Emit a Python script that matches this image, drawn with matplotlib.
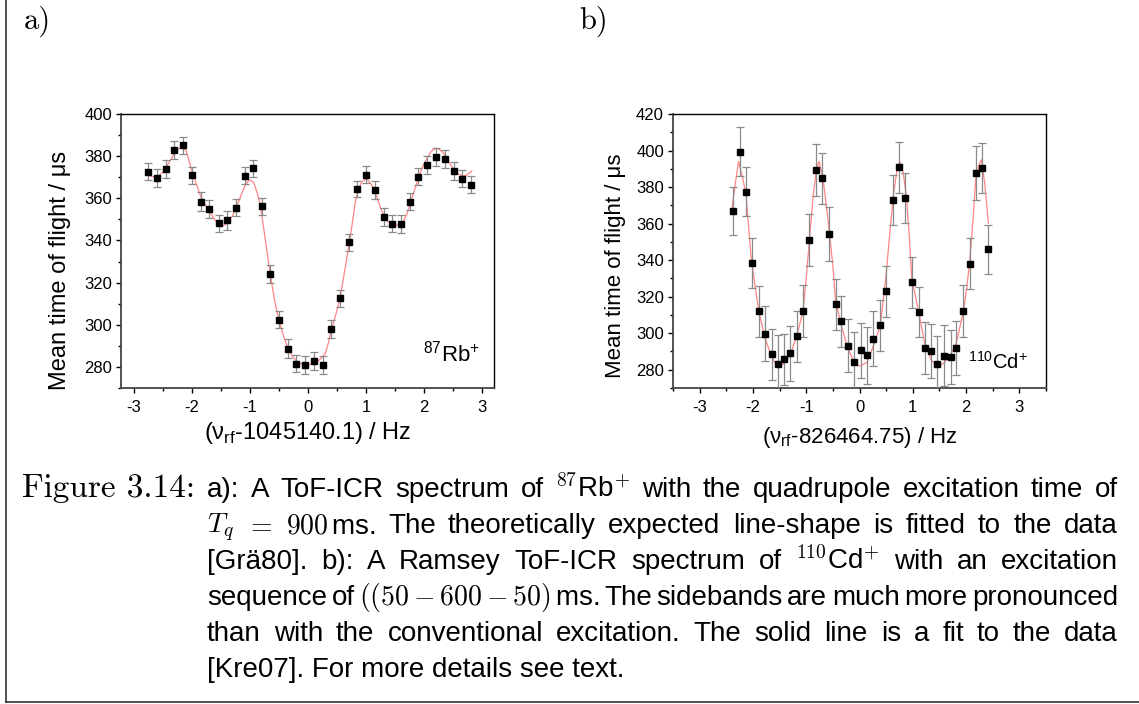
import matplotlib.pyplot as plt
from matplotlib.ticker import MultipleLocator
from matplotlib.lines import Line2D

plt.rcParams['font.family'] = ['Liberation Sans', 'DejaVu Sans']
plt.rcParams['axes.unicode_minus'] = False

# -------------------------------
# Data a) 87Rb+ conventional excitation
# -------------------------------
freq_a = [-2.75, -2.60, -2.45, -2.30, -2.15, -2.00, -1.85, -1.70, -1.54, -1.39,
          -1.24, -1.09, -0.94, -0.80, -0.65, -0.50, -0.35, -0.20, -0.05, 0.11,
          0.26, 0.40, 0.55, 0.70, 0.85, 1.00, 1.15, 1.30, 1.45, 1.60,
          1.75, 1.90, 2.05, 2.21, 2.36, 2.51, 2.65, 2.81]
tof_a = [372.6, 369.5, 373.9, 382.8, 385.1, 370.9, 358.4, 354.9, 348.1, 349.7,
         355.6, 370.8, 374.2, 356.2, 324.1, 302.3, 288.7, 281.6, 280.9, 282.8,
         281.1, 298.0, 312.6, 339.1, 364.4, 371.2, 364.0, 351.1, 348.0, 347.7,
         358.4, 370.3, 375.8, 379.8, 378.7, 373.0, 369.3, 366.5]
err_a = [4.1, 4.2, 4.1, 4.3, 4.0, 4.1, 4.4, 4.1, 4.2, 4.5,
         4.2, 4.1, 4.2, 4.0, 4.1, 4.0, 4.5, 4.2, 4.3, 4.2,
         4.3, 4.2, 4.1, 4.0, 4.0, 4.0, 4.1, 4.2, 4.1, 4.3,
         3.9, 4.0, 4.2, 4.3, 4.4, 4.1, 4.1, 4.0]

fit_a_x = [-2.76, -2.68, -2.60, -2.52, -2.45, -2.37, -2.30, -2.23, -2.17, -2.10,
           -2.01, -1.93, -1.85, -1.77, -1.69, -1.60, -1.52, -1.46, -1.38, -1.30,
           -1.24, -1.16, -1.09, -1.03, -0.98, -0.93, -0.88, -0.83, -0.77, -0.72,
           -0.65, -0.58, -0.50, -0.42, -0.35, -0.27, -0.20, -0.10, -0.03, 0.05,
           0.15, 0.22, 0.30, 0.35, 0.40, 0.48, 0.55, 0.62, 0.70, 0.76,
           0.81, 0.87, 0.93, 1.00, 1.05, 1.09, 1.18, 1.24, 1.30, 1.37,
           1.44, 1.52, 1.58, 1.64, 1.70, 1.75, 1.82, 1.90, 1.97, 2.05,
           2.12, 2.20, 2.26, 2.33, 2.40, 2.47, 2.54, 2.61, 2.67, 2.72,
           2.78, 2.82]
fit_a_y = [371.2, 370.3, 370.2, 371.8, 374.4, 378.0, 381.5, 383.5, 383.9, 382.8,
           374.0, 367.3, 361.0, 357.0, 353.8, 349.5, 347.3, 347.0, 348.5, 351.8,
           355.4, 361.0, 365.7, 368.2, 368.6, 367.0, 363.0, 357.8, 347.0, 337.2,
           324.0, 312.0, 302.0, 294.5, 289.0, 285.0, 282.7, 281.2, 280.8, 281.2,
           282.2, 284.0, 286.6, 291.5, 297.7, 305.0, 312.6, 324.0, 337.2, 348.0,
           357.8, 364.5, 368.0, 369.2, 368.0, 366.5, 361.0, 356.0, 352.2, 349.0,
           348.0, 347.2, 347.8, 349.0, 352.5, 356.5, 363.0, 369.6, 375.0, 379.1,
           382.3, 383.9, 383.2, 381.5, 378.5, 375.2, 372.5, 371.2, 370.6, 370.9,
           372.0, 373.0]

# -------------------------------
# Data b) 110Cd+ Ramsey excitation
# -------------------------------
freq_b = [-2.38, -2.25, -2.13, -2.02, -1.89, -1.77, -1.65, -1.53, -1.41, -1.30,
          -1.18, -1.06, -0.94, -0.82, -0.70, -0.58, -0.45, -0.34, -0.22, -0.10,
          0.02, 0.14, 0.26, 0.39, 0.50, 0.62, 0.74, 0.86, 0.98, 1.11,
          1.22, 1.34, 1.46, 1.58, 1.71, 1.82, 1.95, 2.07, 2.18, 2.30, 2.42]
tof_b = [366.9, 399.3, 377.4, 338.4, 311.9, 299.7, 288.4, 282.9, 285.8, 288.9,
         298.4, 312.1, 351.0, 389.5, 384.9, 354.3, 315.9, 306.6, 293.1, 284.0,
         290.6, 287.8, 297.0, 304.3, 322.9, 372.7, 390.8, 374.2, 327.8, 311.8,
         291.9, 290.4, 282.9, 287.7, 286.8, 291.9, 312.1, 338.0, 387.7, 390.4, 345.9]
err_b = [13.2, 13.5, 13.4, 13.7, 13.9, 15.0, 14.0, 15.9, 14.0, 15.0,
         14.0, 14.4, 14.4, 14.3, 13.9, 14.6, 14.0, 14.0, 14.6, 16.4,
         15.0, 15.5, 15.0, 14.0, 14.0, 13.7, 13.9, 13.7, 13.9, 13.7,
         14.0, 14.8, 15.5, 16.6, 14.8, 14.8, 14.3, 14.0, 14.6, 13.9, 13.5]

fit_b_x = [-2.39, -2.33, -2.27, -2.20, -2.13, -2.03, -1.95, -1.89, -1.77, -1.65,
           -1.55, -1.47, -1.41, -1.30, -1.18, -1.06, -1.00, -0.94, -0.87, -0.81,
           -0.76, -0.69, -0.59, -0.50, -0.45, -0.34, -0.22, -0.10, 0.00, 0.14,
           0.26, 0.39, 0.50, 0.56, 0.63, 0.70, 0.755, 0.82, 0.88, 0.93,
           0.98, 1.11, 1.22, 1.34, 1.46, 1.58, 1.71, 1.82, 1.95, 2.01,
           2.07, 2.13, 2.18, 2.24, 2.29, 2.35, 2.42]
fit_b_y = [369.0, 382.0, 394.0, 386.0, 376.0, 340.0, 324.0, 311.9, 297.0, 287.3,
           282.0, 282.3, 283.6, 288.2, 298.2, 312.1, 330.0, 351.0, 375.0, 389.0,
           394.0, 386.0, 362.0, 337.0, 318.0, 304.0, 292.0, 284.0, 282.0, 284.0,
           293.0, 304.0, 332.0, 352.0, 374.0, 389.0, 394.0, 388.0, 375.0, 355.0,
           330.0, 311.8, 295.0, 285.5, 281.8, 283.6, 288.0, 295.0, 312.0, 324.0,
           340.0, 362.0, 384.0, 392.0, 395.0, 382.0, 360.3]

# -------------------------------
# Figure layout (pixel based, 1139 x 704)
# -------------------------------
W, H = 1139, 704
fig = plt.figure(figsize=(W / 100, H / 100), dpi=100)


def px_axes(x0, y0, x1, y1):
    return fig.add_axes([x0 / W, 1 - y1 / H, (x1 - x0) / W, (y1 - y0) / H])


ax_a = px_axes(121, 114, 494, 388)
ax_b = px_axes(673, 114, 1046, 388)

panels = [
    (ax_a, freq_a, tof_a, err_a, fit_a_x, fit_a_y, (-3.22, 3.2), (270, 400)),
    (ax_b, freq_b, tof_b, err_b, fit_b_x, fit_b_y, (-3.5, 3.5), (270, 420)),
]

for ax, fx, fy, fe, cx, cy, xlim, ylim in panels:
    ax.plot(cx, cy, color='#ff8585', lw=0.9, zorder=2)
    ax.errorbar(fx, fy, yerr=fe, fmt='s', color='black', ms=4.2,
                ecolor='#8a8a8a', elinewidth=0.9, capsize=2.6, capthick=0.9, zorder=3)
    ax.set_xlim(*xlim)
    ax.set_ylim(*ylim)
    ax.xaxis.set_major_locator(MultipleLocator(1))
    ax.xaxis.set_minor_locator(MultipleLocator(0.5))
    ax.yaxis.set_major_locator(MultipleLocator(20))
    ax.yaxis.set_minor_locator(MultipleLocator(10))
    ax.tick_params(which='both', direction='out', top=False, right=False, width=1, labelsize=12)
    ax.tick_params(which='major', length=3.5)
    ax.tick_params(which='minor', length=2)
    ax.tick_params(axis='x', pad=5)
    ax.tick_params(axis='y', pad=3)
    for side in ['left', 'bottom']:
        ax.spines[side].set_linewidth(1.3)
        ax.spines[side].set_color('#444444')
    for side in ['top', 'right']:
        ax.spines[side].set_linewidth(1.0)

# axis labels
ax_a.set_ylabel('Mean time of flight / μs', fontsize=17, va='center')
ax_a.yaxis.set_label_coords(-0.164, 0.43)
ax_a.set_xlabel(r'(ν$_{\mathregular{rf}}$-1045140.1) / Hz', fontsize=17, va='baseline')
ax_a.xaxis.set_label_coords(0.5, -0.185)
ax_a.text(0.81, 0.095, r'$\mathregular{^{87}}$Rb$\mathregular{^{+}}$', fontsize=16,
          transform=ax_a.transAxes, va='baseline')

ax_b.set_ylabel('Mean time of flight / μs', fontsize=16, va='center')
ax_b.yaxis.set_label_coords(-0.155, 0.445)
ax_b.set_xlabel(r'(ν$_{\mathregular{rf}}$-826464.75) / Hz', fontsize=16, va='baseline')
ax_b.xaxis.set_label_coords(0.5, -0.2)
ax_b.text(0.791, 0.069, r'$\mathregular{^{110}}$Cd$\mathregular{^{+}}$', fontsize=14.5,
          transform=ax_b.transAxes, va='baseline')

# panel letters
fig.text(24 / W, 1 - 29 / H, 'a)', fontsize=22, family='cmr10', va='baseline')
fig.text(579 / W, 1 - 29 / H, 'b)', fontsize=22, family='cmr10', va='baseline')

# frame lines (left and bottom)
fig.add_artist(Line2D([6 / W, 6 / W], [1 - 702 / H, 1.0], transform=fig.transFigure, color='#333333', lw=1.2))
fig.add_artist(Line2D([6 / W, 1.0], [1 - 702 / H, 1 - 702 / H], transform=fig.transFigure, color='#333333', lw=1.2))

# -------------------------------
# Caption (justified lines)
# -------------------------------
cap_size = 20
cap_left, cap_right = 207, 1118
baselines = [497, 533, 569, 605, 641, 677]

caption_lines = [
    ['a):', 'A', 'ToF-ICR', 'spectrum', 'of', r'$^{87}$Rb$^{+}$', 'with', 'the',
     'quadrupole', 'excitation', 'time', 'of'],
    [r'$T_q$', r'$=$', r'$900\,$ms.', 'The', 'theoretically', 'expected', 'line-shape',
     'is', 'fitted', 'to', 'the', 'data'],
    ['[Grä80].', 'b):', 'A', 'Ramsey', 'ToF-ICR', 'spectrum', 'of', r'$^{110}$Cd$^{+}$',
     'with', 'an', 'excitation'],
    ['sequence', 'of', r'$((50-600-50)\,$ms.', 'The', 'sidebands', 'are', 'much', 'more',
     'pronounced'],
    ['than', 'with', 'the', 'conventional', 'excitation.', 'The', 'solid', 'line', 'is',
     'a', 'fit', 'to', 'the', 'data'],
]
last_line = '[Kre07]. For more details see text.'

renderer = fig.canvas.get_renderer()
for words, py in zip(caption_lines, baselines):
    items = [fig.text(0, 1 - py / H, w, fontsize=cap_size, math_fontfamily='cm', va='baseline')
             for w in words]
    widths = [t.get_window_extent(renderer).width for t in items]
    gap = (cap_right - cap_left - sum(widths)) / (len(words) - 1)
    x = cap_left
    for t, w in zip(items, widths):
        t.set_x(x / W)
        x += w + gap

fig.text(cap_left / W, 1 - baselines[5] / H, last_line, fontsize=cap_size, va='baseline')
fig.text(22 / W, 1 - baselines[0] / H, 'Figure 3.14:', fontsize=24, family='cmr10', va='baseline')

plt.savefig('out.png', dpi=100)
plt.close()
